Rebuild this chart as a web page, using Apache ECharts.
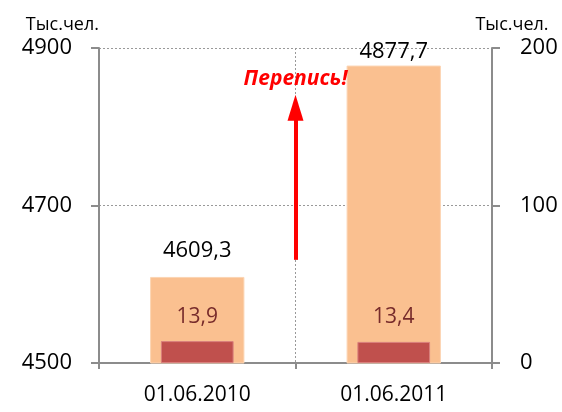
<!DOCTYPE html>
<html>
<head>
<meta charset="utf-8">
<script src="https://cdn.jsdelivr.net/npm/echarts@6/dist/echarts.min.js"></script>
<style>
  html, body { margin: 0; padding: 0; background: #fff; }
  #chart { width: 562px; height: 412px; }
</style>
</head>
<body>
<div id="chart"></div>
<script>
// даты переписи
const categories = ['01.06.2010', '01.06.2011'];
// численность населения, тыс. чел. (левая ось)
const population = [4609.3, 4877.7];
// второй ряд, тыс. чел. (правая ось)
const secondary = [13.9, 13.4];
// стрелка "Перепись!" в координатах левой оси
const arrowX = 1;
const arrowFrom = 4631;
const arrowTo = 4824;

const font = '"Open Sans", "Liberation Sans", sans-serif';
const axisGray = '#8c8c8c';
const comma = (v) => String(v).replace('.', ',');

const chart = echarts.init(document.getElementById('chart'));

chart.setOption({
  animation: false,
  textStyle: { fontFamily: font },
  grid: { left: 99, right: 70, top: 48, bottom: 49 },
  xAxis: [
    {
      type: 'category',
      data: categories,
      axisLine: { lineStyle: { color: axisGray, width: 2 } },
      axisTick: { show: true, length: 6, lineStyle: { color: axisGray, width: 2 } },
      splitLine: { show: true, lineStyle: { color: '#999', type: [2, 2], width: 1 } },
      axisLabel: { color: '#000', fontSize: 21, margin: 22, fontFamily: font }
    },
    { type: 'category', data: categories, show: false },
    { type: 'value', min: 0, max: 2, show: false }
  ],
  yAxis: [
    {
      type: 'value',
      min: 4500,
      max: 4900,
      interval: 200,
      name: 'Тыс.чел.',
      nameLocation: 'end',
      nameGap: 14,
      nameTextStyle: { color: '#000', fontSize: 18, align: 'right', fontFamily: font },
      axisLine: { show: true, lineStyle: { color: axisGray, width: 2 } },
      axisTick: { show: true, length: 8, lineStyle: { color: axisGray, width: 2 } },
      splitLine: { show: true, lineStyle: { color: '#999', type: [2, 2], width: 1 } },
      axisLabel: { color: '#000', fontSize: 22, margin: 27, fontFamily: font, formatter: (v) => String(v) }
    },
    {
      type: 'value',
      min: 0,
      max: 200,
      interval: 100,
      position: 'right',
      name: 'Тыс.чел.',
      nameLocation: 'end',
      nameGap: 14,
      nameTextStyle: { color: '#000', fontSize: 18, align: 'center', padding: [0, 0, 0, 40], fontFamily: font },
      axisLine: { show: true, lineStyle: { color: axisGray, width: 2 } },
      axisTick: { show: true, length: 8, lineStyle: { color: axisGray, width: 2 } },
      splitLine: { show: false },
      axisLabel: { color: '#000', fontSize: 22, margin: 28, fontFamily: font }
    }
  ],
  series: [
    {
      type: 'bar',
      xAxisIndex: 0,
      yAxisIndex: 0,
      // верхняя подпись прижата к бару, чтобы не выйти за сетку
      data: population.map((v, i) => ({ value: v, label: { distance: i === population.length - 1 ? 3 : 15 } })),
      barWidth: '48%',
      itemStyle: { color: '#FAC090', borderColor: '#FCD5B4', borderWidth: 1 },
      label: {
        show: true,
        position: 'top',
        color: '#000',
        fontSize: 22,
        fontFamily: font,
        formatter: (p) => comma(p.value)
      }
    },
    {
      type: 'bar',
      xAxisIndex: 1,
      yAxisIndex: 1,
      data: secondary,
      barWidth: '37%',
      itemStyle: { color: '#C0504D', borderColor: '#D9807D', borderWidth: 1 },
      label: {
        show: true,
        position: 'top',
        distance: 14,
        color: '#772B2B',
        fontSize: 21,
        fontFamily: font,
        formatter: (p) => comma(p.value)
      }
    },
    {
      type: 'line',
      xAxisIndex: 2,
      yAxisIndex: 0,
      data: [],
      silent: true,
      markLine: {
        silent: true,
        symbol: ['none', 'triangle'],
        symbolSize: [16, 26],
        lineStyle: { color: '#FF0000', width: 4, type: 'solid' },
        label: {
          show: true,
          position: 'end',
          distance: 18,
          formatter: 'Перепись!',
          color: '#FF0000',
          fontSize: 21,
          fontWeight: 'bold',
          fontStyle: 'italic',
          fontFamily: font
        },
        data: [[{ coord: [arrowX, arrowFrom] }, { coord: [arrowX, arrowTo] }]]
      }
    }
  ]
});
</script>
</body>
</html>
